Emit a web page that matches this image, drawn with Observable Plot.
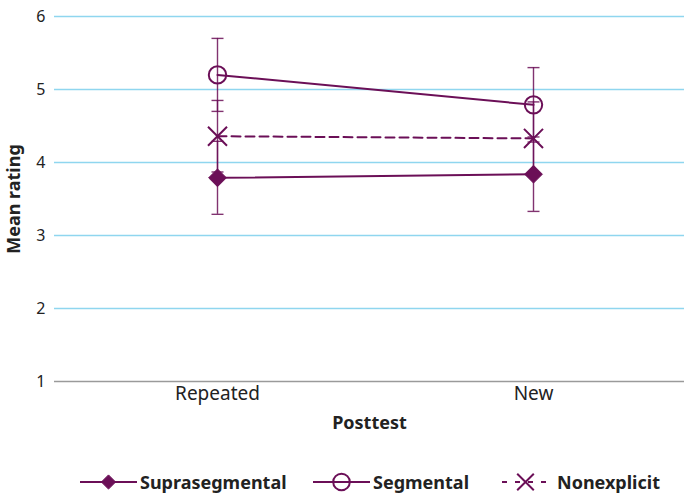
<!DOCTYPE html>
<html>
<head>
<meta charset="utf-8">
<script src="https://cdn.jsdelivr.net/npm/d3@7"></script>
<script src="https://cdn.jsdelivr.net/npm/@observablehq/plot@0.6"></script>
<style>
  body { margin: 0; background: #fff; }
  #chart { position: relative; width: 684px; height: 495px; font-family: "Noto Sans", sans-serif; color: #222; }
  .legend { position: absolute; left: 0; top: 471px; width: 684px; height: 22px; font-weight: bold; font-size: 18px; color: #222; }
  .legend .item { position: absolute; top: 0; display: flex; align-items: center; height: 22px; white-space: nowrap; }
  .legend svg { display: block; margin-right: 3px; }
</style>
</head>
<body>
<div id="chart"></div>
<script>
const categories = ["Repeated", "New"];
const seriesNames = ["Suprasegmental", "Segmental", "Nonexplicit"];
const supraMeans = [3.79, 3.84];
const segMeans = [5.20, 4.79];
const nonexMeans = [4.36, 4.33];
const supraErr = [0.50, 0.51];
const segErr = [0.50, 0.51];
const nonexErr = [0.49, 0.50];
const yTicks = [1, 2, 3, 4, 5, 6];

const color = "#6b0f57";
const symbols = { Suprasegmental: "diamond2", Segmental: "circle", Nonexplicit: "times" };
const radii = { Suprasegmental: 8.0, Segmental: 8.7, Nonexplicit: 8.7 };
const legendRadii = { Suprasegmental: 6.4, Segmental: 8.3, Nonexplicit: 7.6 };
const legendLeft = { Suprasegmental: 80, Segmental: 313, Nonexplicit: 497 };

const meansBy = { Suprasegmental: supraMeans, Segmental: segMeans, Nonexplicit: nonexMeans };
const errBy = { Suprasegmental: supraErr, Segmental: segErr, Nonexplicit: nonexErr };

const rows = [];
for (const s of seriesNames) {
  categories.forEach((c, i) => {
    rows.push({ series: s, cat: c, mean: meansBy[s][i], lo: meansBy[s][i] - errBy[s][i], hi: meansBy[s][i] + errBy[s][i] });
  });
}
const caps = rows.flatMap(d => [{ cat: d.cat, y: d.lo }, { cat: d.cat, y: d.hi }]);

const capSymbol = {
  draw(context, size) {
    const r = Math.sqrt(size / Math.PI);
    context.moveTo(-r, 0);
    context.lineTo(r, 0);
  }
};

const plot = Plot.plot({
  width: 684,
  height: 440,
  marginLeft: 54,
  marginRight: 0,
  marginTop: 16,
  marginBottom: 59,
  style: { fontFamily: "Noto Sans, sans-serif", fontSize: "16px", color: "#222", background: "#fff" },
  x: { type: "point", domain: categories, range: [217, 533], padding: 0 },
  y: { domain: [1, 6] },
  marks: [
    Plot.ruleY(yTicks.filter(t => t > 1), { stroke: "#8fd6ef", strokeWidth: 1.3 }),
    Plot.ruleY([1], { stroke: "#9a9a9a", strokeWidth: 1.3 }),
    Plot.axisY({ ticks: yTicks, tickFormat: d => String(d), tickSize: 0, tickPadding: 9, label: null, fontSize: 16 }),
    Plot.axisX({ tickSize: 0, tickPadding: 5, label: null, fontSize: 19 }),
    Plot.text(["Mean rating"], { frameAnchor: "left", textAnchor: "middle", rotate: -90, dx: -40, fontWeight: "bold", fontSize: 18 }),
    Plot.text(["Posttest"], { frameAnchor: "bottom", textAnchor: "middle", dy: 47, fontWeight: "bold", fontSize: 18 }),
    Plot.ruleX(rows, { x: "cat", y1: "lo", y2: "hi", stroke: color, strokeWidth: 1.4, strokeOpacity: 0.85 }),
    Plot.dot(caps, { x: "cat", y: "y", symbol: capSymbol, r: 6, stroke: color, strokeWidth: 1.4, strokeOpacity: 0.85 }),
    Plot.line(rows.filter(d => d.series !== "Nonexplicit"), { x: "cat", y: "mean", z: "series", stroke: color, strokeWidth: 2 }),
    Plot.line(rows.filter(d => d.series === "Nonexplicit"), { x: "cat", y: "mean", stroke: color, strokeWidth: 2, strokeDasharray: "9,5" }),
    Plot.dot(rows.filter(d => d.series === "Suprasegmental"), { x: "cat", y: "mean", symbol: "diamond2", r: radii.Suprasegmental, fill: color, stroke: color, strokeWidth: 1 }),
    Plot.dot(rows.filter(d => d.series === "Segmental"), { x: "cat", y: "mean", symbol: "circle", r: radii.Segmental, fill: "none", stroke: color, strokeWidth: 2 }),
    Plot.dot(rows.filter(d => d.series === "Nonexplicit"), { x: "cat", y: "mean", symbol: "times", r: radii.Nonexplicit, stroke: color, strokeWidth: 2 })
  ]
});

const chart = document.getElementById("chart");
chart.appendChild(plot);

// Legend
const legend = document.createElement("div");
legend.className = "legend";
for (const s of seriesNames) {
  const item = document.createElement("div");
  item.className = "item";
  item.style.left = legendLeft[s] + "px";
  const w = 57, h = 22;
  const svg = d3.create("svg").attr("width", w).attr("height", h);
  svg.append("line").attr("x1", s === "Nonexplicit" ? 5 : 0).attr("x2", w).attr("y1", h / 2).attr("y2", h / 2)
    .attr("stroke", color).attr("stroke-width", 2)
    .attr("stroke-dasharray", s === "Nonexplicit" ? "5,8" : null);
  const sym = { diamond2: d3.symbolDiamond2, circle: d3.symbolCircle, times: d3.symbolTimes }[symbols[s]];
  const r = legendRadii[s];
  const path = svg.append("path").attr("transform", `translate(${w / 2},${h / 2})`)
    .attr("d", d3.symbol(sym, r * r * Math.PI)());
  if (s === "Suprasegmental") path.attr("fill", color).attr("stroke", color);
  else path.attr("fill", "none").attr("stroke", color).attr("stroke-width", 2);
  item.appendChild(svg.node());
  const label = document.createElement("span");
  label.textContent = s;
  item.appendChild(label);
  legend.appendChild(item);
}
chart.appendChild(legend);
</script>
</body>
</html>
